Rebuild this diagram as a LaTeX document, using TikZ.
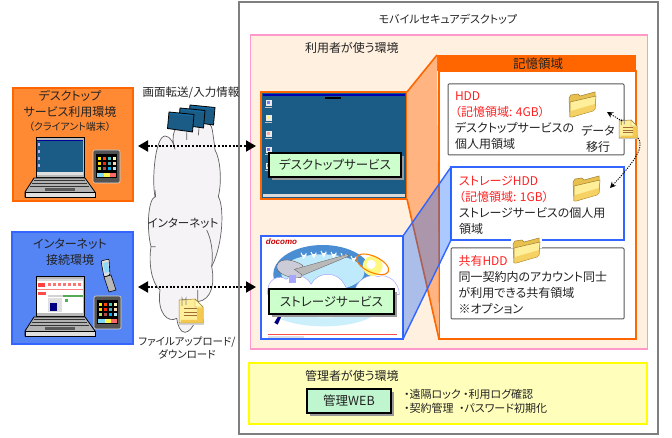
\documentclass[tikz,border=0pt]{standalone}
\usepackage{fontspec}
\setmainfont[RawFeature=+palt]{Noto Sans CJK JP}
\usetikzlibrary{arrows.meta,calc}
\definecolor{grayline}{HTML}{7F7F7F}
\definecolor{pinkline}{HTML}{FF99CC}
\definecolor{peach}{HTML}{FFF0E0}
\definecolor{yline}{HTML}{FFFF00}
\definecolor{yfill}{HTML}{FFFFBB}
\definecolor{orangeline}{HTML}{FF6600}
\definecolor{orangefill}{HTML}{FF8A33}
\definecolor{orangelight}{HTML}{FFB482}
\definecolor{blueline}{HTML}{3366FF}
\definecolor{bluefill}{HTML}{5585F5}
\definecolor{screenblue}{HTML}{1A5C85}
\definecolor{labelgreen}{HTML}{CCFFCC}
\definecolor{txt}{HTML}{222222}
\definecolor{redtxt}{HTML}{FF2020}
\definecolor{cloudfill}{HTML}{F6F3F6}
\definecolor{foldback}{HTML}{E8C050}
\definecolor{foldfront}{HTML}{FFEE9A}
\definecolor{foldshade}{HTML}{F0C040}
\definecolor{foldline}{HTML}{A08030}
\definecolor{adminfill}{HTML}{BFF5CF}
\tikzset{
  box/.style={rectangle,inner sep=0pt,outer sep=0pt},
  label box/.style={box,draw=black,line width=1.4pt,fill=labelgreen,text=txt,font=\fontsize{12.5}{15}\selectfont},
  shadowed/.style={fill=gray!80,draw=none},
  memory box/.style={box,draw=#1,fill=white,line width=1pt},
  tx/.style={inner sep=0pt,outer sep=0pt,text=txt,font=\fontsize{#1}{16}\selectfont},
  biarrow/.style={line width=2pt,dash pattern=on 2pt off 1.7pt,{Triangle[length=10pt,width=11pt]}-{Triangle[length=10pt,width=11pt]},shorten <=5pt,shorten >=5pt},
  miniarrow/.style={line width=.9pt,dash pattern=on 1.2pt off 1.2pt,-{Stealth[length=6pt,width=6pt]}},
  laptopicon/.pic={
    \fill[gray!55,draw=black,line width=.8pt] (11,0) rectangle (59,40);
    \fill[gray!60,draw=black,line width=.8pt] (9,41) -- (60,41) -- (70,55) -- (70,60) -- (0,60) -- (0,55) -- cycle;
    \fill[gray!25,draw=black,line width=.5pt] (0,55) rectangle (70,60);
    \draw[black!80,line width=1pt] (9,44) -- (60,44) (7,47) -- (62,47) (5,50) -- (64,50);
    \fill[black!65] (20,51.5) rectangle (50,54);
  },
  tableticon/.pic={
    \fill[gray!65!black,draw=gray!30,line width=.6pt,rounded corners=2pt] (0,0) rectangle (27,33);
    \fill[black] (3,4) rectangle (24,28);
    \foreach \yy/\cc in {7/yellow,12/orange,17/cyan}{
      \foreach \xx/\dd in {5/yellow,10/red,15/cyan,20/white}{
        \fill[\dd!70!\cc] (\xx,\yy) rectangle ++(3,3);
      }
    }
    \fill[cyan!50] (4,23) rectangle (11,27);
    \fill[yellow!70] (11,23) rectangle (17,27);
    \fill[red!60] (17,23) rectangle (23,27);
  },
  foldericon/.pic={
    \fill[foldback,draw=foldline,line width=.5pt] (0,6) -- (2,3) -- (9,2) -- (11,4) -- (26,0) -- (26,16) -- (24,18) -- (3,25) -- (1,25) -- cycle;
    \fill[foldfront,draw=foldline,line width=.5pt] (1,25) -- (1,10) -- (27,4) -- (26,17) -- (24,19) -- (3,25) -- cycle;
    \fill[foldshade,opacity=.6] (1,25) -- (2,19) -- (26,12) -- (26,17) -- (24,19) -- (3,25) -- cycle;
  },
  docicon/.pic={
    \fill[gray!35] (0,20) rectangle (25,26);
    \fill[foldfront,draw=foldline,line width=.5pt] (0,1) -- (16,0) -- (24,8) -- (24,24) -- (0,24) -- cycle;
    \fill[yellow!30,draw=foldline,line width=.4pt] (16,0) -- (16,8) -- (24,8) -- cycle;
    \fill[foldshade,opacity=.8] (18,9) -- (24,9) -- (24,24) -- (2,24) -- (2,21) -- (18,21) -- cycle;
    \draw[brown!85!black,line width=1pt] (5,10) -- (18,10) (5,13.5) -- (18,13.5) (5,17) -- (18,17);
    \draw[gray,line width=.6pt] (3,7) -- (3,-1) arc[start angle=180,end angle=0,radius=2] -- (7,6);
  },
  screenstack/.pic={
    \fill[screenblue,draw=black,line width=.8pt] (0,0) -- (25,2.5) -- (23.5,20) -- (-1.5,16.5) -- cycle;
    \fill[cyan!60!blue,opacity=.5] (1,1) -- (24,3.3) -- (24,4.3) -- (1,2) -- cycle;
  }
}
\begin{document}
\begin{tikzpicture}[x=1pt,y=-1pt]
\useasboundingbox (0,0) rectangle (672,438);
\fill[white] (0,0) rectangle (672,438);

% large frames
\node[box,draw=grayline,fill=white,line width=2.2pt,minimum width=419,minimum height=432] (mobile) at (448.5,218) {};
\node[box,draw=pinkline,fill=peach,line width=1.5pt,minimum width=397,minimum height=314] (userenv) at (449,192) {};
\node[box,draw=yline,fill=yfill,line width=2pt,minimum width=398,minimum height=61] (adminenv) at (448,393.5) {};

% storage area
\node[box,draw=orangeline,fill=white,line width=1.6pt,minimum width=197,minimum height=268] (mem) at (537.5,205) {};
\node[box,fill=orangeline,minimum width=199,minimum height=16] (memhead) at (536.5,63) {};
\node[memory box=gray!70!black,minimum width=176,minimum height=71,rounded corners=1pt] (hdd) at (536,119.5) {};
\node[memory box=blueline,line width=1.4pt,minimum width=173,minimum height=73] (shdd) at (537.5,203.5) {};
\node[memory box=gray!70!black,minimum width=173,minimum height=71,rounded corners=1pt] (share) at (537.5,283.5) {};

% screens
\node[box,draw=orangeline,fill=screenblue,line width=1.6pt,minimum width=146,minimum height=107] (desk) at (334,145.5) {};
\node[box,draw=blueline,fill=white,line width=1.6pt,minimum width=142,minimum height=103] (store) at (332,287.5) {};

% projection planes
\path[fill=orangelight] (desk.north east) -- (memhead.north west) -- (mem.south west) -- (desk.south east) -- cycle;
\draw[orangeline,line width=1.6pt] (desk.north east) -- (memhead.north west) (mem.south west) -- (desk.south east);
\path[fill=blue!65!cyan,fill opacity=.33] (store.north east) -- (shdd.north west) -- (shdd.south west) -- (store.south east) -- cycle;
\draw[blueline,line width=1.4pt] (store.north east) -- (shdd.north west) (shdd.south west) -- (store.south east);

% desktop screen content
\fill[blue!70!black] (263,94) rectangle (405,96);
\fill[gray!30] (263,194) rectangle (405,197.5);
\fill[black] (325,97) rectangle (341,99.5);
\foreach \iy/\ic in {100/blue!50,115/yellow!60,131/red!35,147/blue!60,163/blue!50}{
  \fill[white!85!gray] (265.5,\iy) rectangle ++(6,6);
  \fill[\ic] (267,\iy+1) rectangle ++(3,3);
  \fill[gray!50] (265,\iy+7) rectangle ++(7,1.2);
}

% storage screen content
\begin{scope}[shift={(261,236)},scale=1/3]
  \clip (4,4) rectangle (425,308);
  \fill[cyan!55!blue!75] (185,115) ellipse (148 and 88);
  \fill[cyan!25] (185,110) ellipse (125 and 55);
  \foreach \bx/\by in {120/50,150/48,180/45,210/48,240/52,270/60}{
    \draw[white,line width=1pt] (\bx,\by) -- ++(8,16) -- ++(8,-14) (\bx+2,\by+8) -- ++(14,0);
  }
  \fill[cyan!20] (60,250) .. controls (150,285) and (300,275) .. (350,230) -- (320,225) .. controls (250,250) and (150,250) .. (90,230) -- cycle;
  \fill[white,draw=blue!40,line width=.4pt] (20,175) .. controls (15,125) and (60,115) .. (75,130) .. controls (110,105) and (140,125) .. (150,145) .. controls (170,105) and (230,105) .. (250,145) -- (270,180) -- cycle;
  \fill[white,draw=blue!40,line width=.4pt] (280,175) .. controls (280,130) and (330,110) .. (350,122) .. controls (380,110) and (415,140) .. (415,175) -- cycle;
  \fill[yellow!50!white] (335,90) circle (30);
  \fill[white] (330,85) circle (14);
  \draw[orange,line width=1.1pt,rotate around={-25:(335,85)}] (335,85) ellipse (52 and 24);
  \fill[blue!15!gray!35,draw=gray!70!black,line width=.4pt] (48,88) .. controls (55,65) and (95,68) .. (125,88) -- (120,125) .. controls (80,128) and (42,110) .. (48,88) -- cycle;
  \fill[gray!55,draw=gray!70!black,line width=.3pt] (100,100) -- (260,55) -- (264,60) -- (125,118) -- cycle;
  \fill[blue!35] (85,118) rectangle (105,140);
  \fill[blue!50!black] (40,260) -- (55,235) -- (62,240) -- (50,266) -- cycle;
  \draw[red!70,line width=1pt] (20,296) -- (408,296);
  \fill[gray!25] (20,301) rectangle (130,305);
\end{scope}
\node[inner sep=0pt,text=red!80!black,font=\fontsize{8}{9}\fontspec{Liberation Sans}\bfseries\itshape] (docomo) at (281.5,241.5) {docomo};

% service labels
\fill[shadowed] (272,156) rectangle (404,180);
\node[label box,minimum width=132,minimum height=24] (desklabel) at (335,165) {デスクトップサービス};
\fill[shadowed] (272,292) rectangle (397,317);
\node[label box,minimum width=125,minimum height=25] (storelabel) at (331.5,301.5) {ストレージサービス};

% environments
\node[box,draw=orangeline,fill=orangefill,line width=1.2pt,minimum width=120,minimum height=113] (clientenv) at (73,144.5) {};
\node[box,draw=blueline,fill=bluefill,line width=1.2pt,minimum width=121,minimum height=112] (netenv) at (72.5,288) {};
\node[tx=12,align=center] (clienttitle) at (70,111) {デスクトップ\\サービス利用環境\\[-2pt]{\fontsize{10}{12}\selectfont （クライアント端末）}};
\node[tx=12,align=center] (nettitle) at (70,252) {インターネット\\接続環境};

\pic at (25,137) {laptopicon};
\fill[screenblue] (37,140) rectangle (83,172);
\fill[blue!60!black] (37,140) rectangle (83,141.5);
\fill[gray!25] (37,172) rectangle (83,175);
\foreach \iy in {143,150,157,164}{\fill[white!70!blue] (38,\iy) rectangle ++(2,3);}
\pic at (93,150) {tableticon};

\pic at (25,276) {laptopicon};
\fill[white] (37,279) rectangle (83,313);
\fill[gray!30] (37,279) rectangle (83,281);
\fill[red!75] (38,283) rectangle (45,287);
\foreach \xx in {48,53,58,63,68,73,78}{\fill[red!55] (\xx,283) rectangle ++(3,3);}
\fill[red!50] (37,289) rectangle (83,290.5);
\fill[red!70] (38,292) rectangle (46,295);
\fill[gray!35] (48,295) rectangle (83,297);
\fill[green!35!gray] (63,295) rectangle (83,297);
\fill[gray!25] (48,298) rectangle (62,312);
\fill[blue!50!black] (50,303) rectangle (57,311);
\fill[green!40!gray] (65,299) rectangle (68,302);
\pic at (94,296) {tableticon};

% mobile phone
\fill[gray!55,draw=black,line width=.6pt] (104,277) -- (111,275) -- (116,290) -- (109,292) -- cycle;
\fill[gray!25,draw=black,line width=.6pt,rounded corners=1pt] (101,261) -- (109,259) -- (110,275) -- (104,277) -- cycle;
\fill[cyan!45] (103,263) -- (108,262) -- (109,272) -- (105,273) -- cycle;

% cloud
\begin{scope}[shift={(135,100)},scale=1/3]
  \draw[fill=cloudfill,draw=gray!75!black,line width=.7pt]
    (60,290) .. controls (50,240) and (60,110) .. (90,108)
    .. controls (105,108) and (118,130) .. (120,148)
    .. controls (105,110) and (120,70) .. (150,60)
    .. controls (180,50) and (230,60) .. (232,90)
    .. controls (235,110) and (238,130) .. (240,150)
    .. controls (255,175) and (262,240) .. (250,290)
    .. controls (268,320) and (265,430) .. (230,500)
    .. controls (240,550) and (230,600) .. (188,605)
    .. controls (195,640) and (175,695) .. (150,697)
    .. controls (135,697) and (128,675) .. (125,655)
    .. controls (100,670) and (65,640) .. (75,570)
    .. controls (50,550) and (40,490) .. (48,440)
    .. controls (35,390) and (38,300) .. (60,290) -- cycle;
  \draw[gray!75!black,line width=.7pt] (215,390) .. controls (230,420) and (235,460) .. (230,500)
    (188,570) -- (188,605) (155,97) -- (155,120) (192,85) -- (190,106) (48,440) -- (62,440) (60,270) -- (62,292);
\end{scope}
\node[tx=11.5] (internet) at (183,223) {インターネット};

\pic at (190,105) {screenstack};
\pic at (180,108) {screenstack};
\pic at (169,112) {screenstack};
\pic (bigdoc) at (179,299) {docicon};

% texts
\node[tx=11] (mobiletitle) at (448,19) {モバイルセキュアデスクトップ};
\node[tx=12,anchor=west] (usertitle) at (305,48) {利用者が使う環境};
\node[tx=12.5] (memtitle) at (538,63.5) {記憶領域};
\node[tx=11.5] (upinfo) at (191,93) {画面転送/入力情報};
\node[tx=10.5,align=center] (fileinfo) at (187,347.5) {ファイルアップロード/\\[-3pt]ダウンロード};

\node[tx=12,anchor=west,align=left] (hddtext) at (455,121) {\textcolor{redtxt}{HDD}\\\textcolor{redtxt}{（記憶領域: 4GB）}\\デスクトップサービスの\\個人用領域};
\node[tx=12,anchor=west,align=left] (shddtext) at (459,205) {\textcolor{redtxt}{ストレージHDD}\\\textcolor{redtxt}{（記憶領域: 1GB）}\\ストレージサービスの個人用\\領域};
\node[tx=12,anchor=west,align=left] (sharetext) at (458.5,285) {\textcolor{redtxt}{共有HDD}\\同一契約内のアカウント同士\\が利用できる共有領域\\※オプション};
\node[tx=12,align=center] (migrate) at (598,138.5) {データ\\移行};

% folders
\fill[white] (511,236) rectangle (542,248);
\pic at (569,92) {foldericon};
\pic at (573,176) {foldericon};
\pic at (513,238) {foldericon};

% migration arrows
\pic[scale=.75] at (619,120) {docicon};
\coordinate (migratefrom) at (622,121);
\coordinate (migrateA) at (607,112);
\coordinate (migratebend) at (638,138);
\coordinate (migrateB) at (610,188);
\draw[miniarrow] (migratefrom) -- (migrateA);
\draw[miniarrow] (migratebend) .. controls (643,145) and (641,155) .. (migrateB);

% admin
\node[tx=12,anchor=west] (admintitle) at (305,376) {管理者が使う環境};
\fill[shadowed] (310,392) rectangle (394,416);
\node[label box,fill=adminfill,minimum width=84,minimum height=24] (adminweb) at (349,401) {管理WEB};
\node[tx=11,anchor=west,align=left] (admintext) at (404,401) {\makebox[59pt][l]{・遠隔ロック}・利用ログ確認\\[-2pt]\makebox[55pt][l]{・契約管理}・パスワード初期化};

% connectors
\draw[biarrow] ([yshift=-1.5pt]clientenv.east) -- ([yshift=-.5pt]desk.west);
\draw[biarrow] ([yshift=1pt]netenv.east) -- ([yshift=.5pt]store.west);
\end{tikzpicture}
\end{document}
